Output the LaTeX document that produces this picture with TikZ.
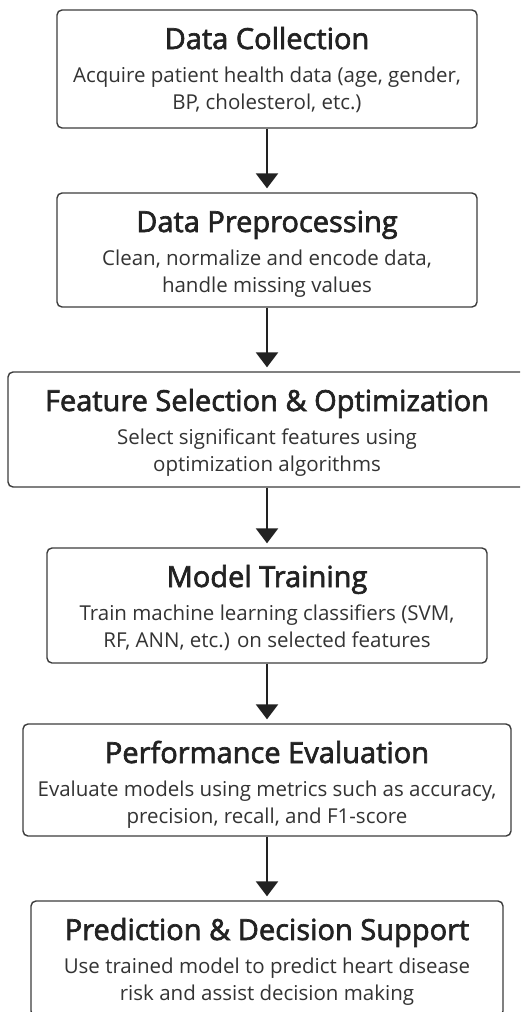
\documentclass[tikz,border=0pt]{standalone}
\usepackage{fontspec}
\setmainfont{Open Sans}
\usetikzlibrary{arrows.meta}

\definecolor{inkdark}{HTML}{222222}
\definecolor{inkgray}{HTML}{333333}
\definecolor{boxgray}{HTML}{3C3C3C}

\tikzstyle{flowchart}=[%
	x=1pt, y=-1pt,
	stagebox/.style={%
		draw=boxgray,
		line width=1.4pt,
		rounded corners=5pt,
		fill=white,
		inner sep=0pt
	},
	stagehead/.style={%
		anchor=base,
		text=inkdark,
		font=\fontsize{29}{29}\selectfont\addfontfeature{FakeBold=2.2}
	},
	stagetext/.style={%
		anchor=base,
		text=inkgray,
		font=\fontsize{20.5}{20.5}\selectfont
	},
	flow/.style={%
		draw=inkdark,
		line width=2.6pt,
		-{Triangle[width=22pt,length=15pt]},
		shorten >=4pt
	}
]

\begin{document}
\begin{tikzpicture}[flowchart]
	\path[use as bounding box, fill=white] (0,0) rectangle (520,1012);
	\clip (0,0) rectangle (520,1012);

	% stages: name / left / right / top / bottom / title / two lines
	\foreach \name/\l/\r/\t/\b/\head/\lineA/\lineB in {%
		collect/57/477/10/128/{Data Collection}/{Acquire patient health data (age, gender,}/{BP, cholesterol, etc.)},
		prep/57/477/193/307/{Data Preprocessing}/{Clean, normalize and encode data,}/{handle missing values},
		select/8/526/372/487/{Feature Selection \& Optimization}/{Select significant features using}/{optimization algorithms},
		train/47/487/548/663/{Model Training}/{Train machine learning classifiers (SVM,}/{RF, ANN, etc.) on selected features},
		evaluate/23/511/724/836/{Performance Evaluation}/{Evaluate models using metrics such as accuracy,}/{precision, recall, and F1-score},
		predict/31/503/901/1016/{Prediction \& Decision Support}/{Use trained model to predict heart disease}/{risk and assist decision making}%
	} {
		\node[stagebox, minimum width={(\r-\l)*1pt}, minimum height={(\b-\t)*1pt}]
			(\name) at ({(\l+\r)/2},{(\t+\b)/2}) {};
		\node[stagehead] (\name-head) at (267,\t+39) {\head};
		\node[stagetext] (\name-a) at (267,\t+72) {\lineA};
		\node[stagetext] (\name-b) at (267,\t+99) {\lineB};
	}

	\foreach \from/\to in {collect/prep, prep/select, select/train, train/evaluate, evaluate/predict} {
		\draw[flow] (\from) -- (\to);
	}
\end{tikzpicture}
\end{document}
